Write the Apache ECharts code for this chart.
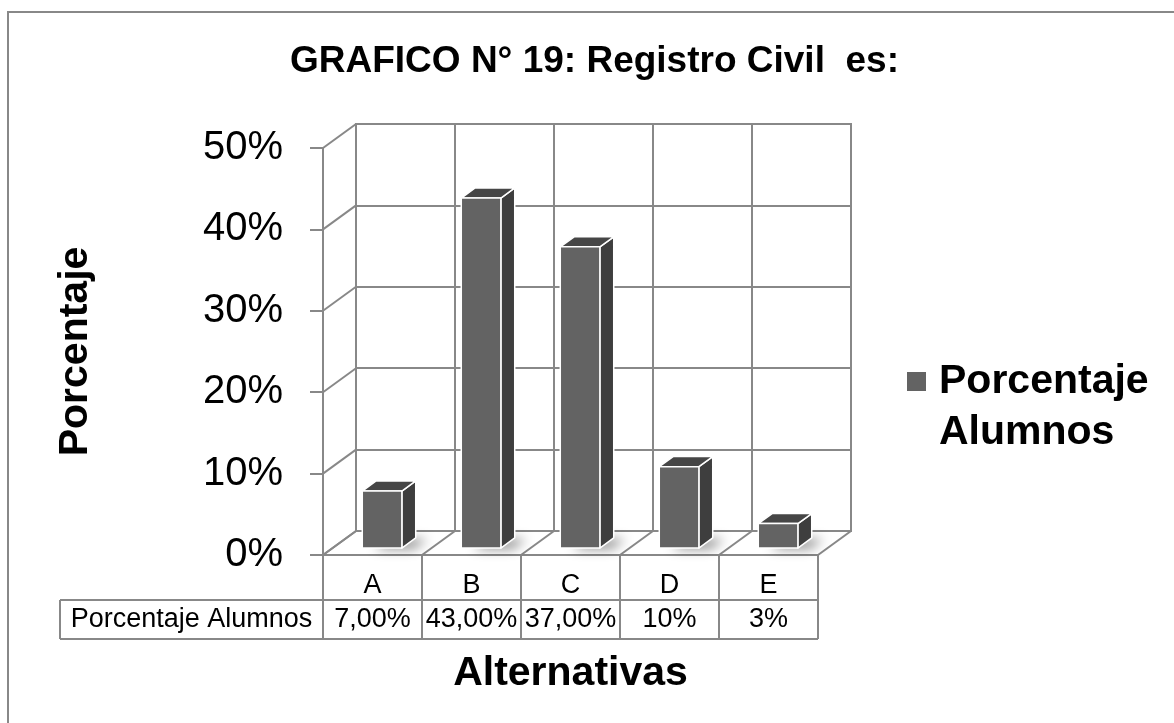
<!DOCTYPE html>
<html><head><meta charset="utf-8">
<script src="https://cdn.jsdelivr.net/npm/echarts@6/dist/echarts.min.js"></script>
<style>html,body{margin:0;padding:0;background:#fff}#c{width:1174px;height:723px}</style>
</head><body><div id="c"></div>
<script>
const categories = ['A', 'B', 'C', 'D', 'E'];
const values = [7, 43, 37, 10, 3];
const tableLabels = ['7,00%', '43,00%', '37,00%', '10%', '3%'];
const seriesName = 'Porcentaje Alumnos';
const yTicks = [0, 10, 20, 30, 40, 50];
const chartTitle = 'GRAFICO N° 19: Registro Civil  es:';
const yTitle = 'Porcentaje';
const xTitle = 'Alternativas';

const DX = -33, DY = 24;          // depth offset back wall -> front edge
const LINE = '#888888';
const FONT = '"Liberation Sans", Arial, sans-serif';

const chart = echarts.init(document.getElementById('c'), null, {renderer: 'canvas'});

function renderFrame(params, api) {
  const bw = api.size([1, 0])[0];
  const children = [];
  const ls = {stroke: LINE, lineWidth: 2};
  yTicks.forEach(t => {
    const p = api.coord([0, t]);
    const xl = p[0] - bw / 2;
    children.push({type: 'line', shape: {x1: xl, y1: p[1], x2: xl + DX, y2: p[1] + DY}, style: ls});
  });
  const p0 = api.coord([0, 0]);
  for (let k = 0; k <= categories.length; k++) {
    const x = p0[0] - bw / 2 + k * bw;
    children.push({type: 'line', shape: {x1: x, y1: p0[1], x2: x + DX, y2: p0[1] + DY}, style: ls});
  }
  return {type: 'group', children};
}

function renderBar(params, api) {
  const i = api.value(0), v = api.value(1);
  const b = api.coord([i, 0]), t = api.coord([i, v]);
  const bw = api.size([1, 0])[0];
  const w = bw * 0.40;
  const fF = 0.71, fB = 0.29;
  const x0 = b[0] - w / 2 + DX * fF, x1 = x0 + w;
  const yb = b[1] + DY * fF, yt = t[1] + DY * fF;
  const sx = DX * (fB - fF), sy = DY * (fB - fF);
  const edge = {stroke: '#ffffff', lineWidth: 1.5, lineJoin: 'round'};
  return {
    type: 'group',
    children: [
      {type: 'polygon', shape: {points: [[x0, yb], [x1, yb], [x1 + sx, yb + sy], [x0 + sx, yb + sy]]},
        style: {fill: '#ffffff', shadowBlur: 12, shadowColor: 'rgba(0,0,0,0.45)', shadowOffsetX: 12, shadowOffsetY: 1}},
      {type: 'polygon', shape: {points: [[x1, yt], [x1 + sx, yt + sy], [x1 + sx, yb + sy], [x1, yb]]},
        style: Object.assign({fill: '#3e3e3e'}, edge)},
      {type: 'polygon', shape: {points: [[x0, yt], [x1, yt], [x1 + sx, yt + sy], [x0 + sx, yt + sy]]},
        style: Object.assign({fill: '#464646'}, edge)},
      {type: 'rect', shape: {x: x0, y: yt, width: w, height: yb - yt},
        style: Object.assign({fill: '#636363'}, edge)}
    ]
  };
}

function renderTable(params, api) {
  const i = api.value(0);
  const c = api.coord([i, 0]);
  const bw = api.size([1, 0])[0];
  const children = [];
  const rowTop = c[1] + 45, rowBot = c[1] + 84;
  children.push({type: 'text', style: {text: tableLabels[i], x: c[0], y: (rowTop + rowBot) / 2,
    align: 'center', verticalAlign: 'middle', fontSize: 27, fontFamily: FONT, fill: '#000'}});
  if (params.dataIndex === 0) {
    const left = 60;
    const first = c[0] - bw / 2;
    const right = api.coord([categories.length - 1, 0])[0] + bw / 2;
    const ls = {stroke: LINE, lineWidth: 2};
    children.push({type: 'line', shape: {x1: left, y1: rowTop, x2: right, y2: rowTop}, style: ls});
    children.push({type: 'line', shape: {x1: left, y1: rowBot, x2: right, y2: rowBot}, style: ls});
    children.push({type: 'line', shape: {x1: left, y1: rowTop, x2: left, y2: rowBot}, style: ls});
    children.push({type: 'text', style: {text: seriesName, x: (left + first) / 2, y: (rowTop + rowBot) / 2,
      align: 'center', verticalAlign: 'middle', fontSize: 27, fontFamily: FONT, fill: '#000'}});
  }
  return {type: 'group', children};
}

const option = {
  backgroundColor: '#ffffff',
  animation: false,
  title: {
    text: chartTitle, left: 290, top: 43, padding: 0,
    textStyle: {fontSize: 37, fontWeight: 'bold', fontFamily: FONT, color: '#000'}
  },
  legend: {
    data: [{name: seriesName, icon: 'rect', itemStyle: {color: '#636363'}}],
    left: 907, top: 305, itemWidth: 19, itemHeight: 19, selectedMode: false, padding: 0,
    formatter: n => '\n' + n.replace(' ', '\n'),
    textStyle: {fontSize: 41, fontWeight: 'bold', fontFamily: FONT, color: '#000', lineHeight: 51, padding: [0, 0, 0, 8]}
  },
  graphic: [{type: 'rect', shape: {x: 8, y: 12, width: 1190, height: 740}, style: {fill: 'none', stroke: LINE, lineWidth: 2}, silent: true, z: -10}],
  grid: [
    {left: 356, top: 124, width: 495, height: 407, show: true, borderColor: LINE, borderWidth: 2, backgroundColor: 'transparent'},
    {left: 323, top: 148, width: 495, height: 407}
  ],
  xAxis: [
    {gridIndex: 0, type: 'category', data: categories, axisLine: {show: false}, axisTick: {show: false},
      axisLabel: {show: false}, splitLine: {show: true, interval: 0, lineStyle: {color: LINE, width: 2}}},
    {gridIndex: 1, type: 'category', data: categories, position: 'bottom',
      axisLine: {show: true, onZero: false, lineStyle: {color: LINE, width: 2}},
      axisTick: {show: true, interval: 0, length: 84, lineStyle: {color: LINE, width: 2}},
      axisLabel: {interval: 0, fontSize: 27, color: '#000', fontFamily: FONT, margin: 17},
      splitLine: {show: false},
      name: xTitle, nameLocation: 'middle', nameGap: 98,
      nameTextStyle: {fontSize: 41, fontWeight: 'bold', color: '#000', fontFamily: FONT}}
  ],
  yAxis: [
    {gridIndex: 0, type: 'value', min: 0, max: 50, interval: 10, axisLine: {show: false}, axisTick: {show: false},
      axisLabel: {show: false}, splitLine: {show: true, lineStyle: {color: LINE, width: 2}}},
    {gridIndex: 1, type: 'value', min: 0, max: 50, interval: 10,
      axisLine: {show: true, onZero: false, lineStyle: {color: LINE, width: 2}},
      axisTick: {show: true, length: 13, lineStyle: {color: LINE, width: 2}},
      axisLabel: {formatter: '{value}%', fontSize: 40, color: '#000', fontFamily: FONT, margin: 40},
      splitLine: {show: false},
      name: yTitle, nameLocation: 'middle', nameGap: 227, nameRotate: 90,
      nameTextStyle: {fontSize: 41, fontWeight: 'bold', color: '#000', fontFamily: FONT}}
  ],
  series: [
    {type: 'custom', name: 'frame', xAxisIndex: 0, yAxisIndex: 0, silent: true, z: 1,
      renderItem: renderFrame, data: [[0, 0]]},
    {type: 'custom', name: seriesName, xAxisIndex: 0, yAxisIndex: 0, silent: true, z: 3,
      itemStyle: {color: '#636363'}, renderItem: renderBar,
      data: values.map((v, i) => [i, v])},
    {type: 'custom', name: 'table', xAxisIndex: 1, yAxisIndex: 1, silent: true, z: 2,
      renderItem: renderTable, data: tableLabels.map((s, i) => [i, 0])}
  ]
};
chart.setOption(option);
</script>
</body></html>
